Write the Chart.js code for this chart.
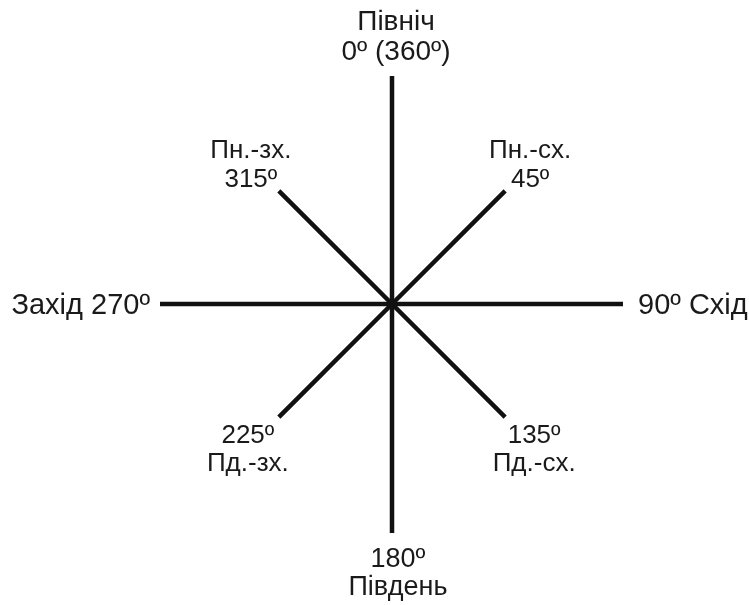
<!DOCTYPE html>
<html>
<head>
<meta charset="utf-8">
<script src="https://cdn.jsdelivr.net/npm/chart.js@4.4.0/dist/chart.umd.min.js"></script>
<style>
  html, body { margin: 0; padding: 0; background: #fff; }
  #compass { display: block; }
</style>
</head>
<body>
<canvas id="compass" width="749" height="605"></canvas>
<script>
// Дані рози вітрів
const directions = ['Північ', 'Пн.-сх.', 'Схід', 'Пд.-сх.', 'Південь', 'Пд.-зх.', 'Захід', 'Пн.-зх.'];
const degrees = [0, 45, 90, 135, 180, 225, 270, 315];
const degreeLabels = ['0º (360º)', '45º', '90º', '135º', '180º', '225º', '270º', '315º'];
const rayLengths = [228, 160, 231, 160, 229, 160, 232, 160];

// кінець променя для кожного напрямку
function rayEnd(i) {
    const a = degrees[i] * Math.PI / 180;
    return { x: rayLengths[i] * Math.sin(a), y: rayLengths[i] * Math.cos(a) };
}

const datasets = directions.map((name, i) => ({
    label: name,
    data: [{ x: 0, y: 0 }, rayEnd(i)],
    showLine: true,
    borderColor: '#111',
    borderWidth: 4.5,
    borderCapStyle: 'butt',
    pointRadius: 0,
    pointHoverRadius: 0
}));

// розміщення підписів відносно кінця променя (dx, dy, вирівнювання, розмір, порядок рядків)
const labelLayout = [
    { dx: 4,   dy: [-46, -16], align: 'center', size: 28, lines: i => [directions[i], degreeLabels[i]] },
    { dx: 25,  dy: [-33, -4],  align: 'center', size: 26, lines: i => [directions[i], degreeLabels[i]] },
    { dx: 15,  dy: [10],       align: 'left',   size: 29, lines: i => [degreeLabels[i] + ' ' + directions[i]] },
    { dx: 29,  dy: [26, 54],   align: 'center', size: 26, lines: i => [degreeLabels[i], directions[i]] },
    { dx: 6,   dy: [34, 62],   align: 'center', size: 27, lines: i => [degreeLabels[i], directions[i]] },
    { dx: -31, dy: [26, 54],   align: 'center', size: 26, lines: i => [degreeLabels[i], directions[i]] },
    { dx: -10, dy: [10],       align: 'right',  size: 29, lines: i => [directions[i] + ' ' + degreeLabels[i]] },
    { dx: -28, dy: [-33, -4],  align: 'center', size: 26, lines: i => [directions[i], degreeLabels[i]] }
];

const compassLabels = {
    id: 'compassLabels',
    afterDatasetsDraw(chart) {
        const ctx = chart.ctx;
        const xs = chart.scales.x, ys = chart.scales.y;
        ctx.save();
        ctx.fillStyle = '#1a1a1a';
        ctx.textBaseline = 'alphabetic';
        directions.forEach((name, i) => {
            const end = rayEnd(i);
            const px = xs.getPixelForValue(end.x);
            const py = ys.getPixelForValue(end.y);
            const lay = labelLayout[i];
            ctx.font = lay.size + 'px "Liberation Sans", Arial, sans-serif';
            ctx.textAlign = lay.align;
            lay.lines(i).forEach((txt, k) => {
                ctx.fillText(txt, px + lay.dx, py + lay.dy[k]);
            });
        });
        ctx.restore();
    }
};

new Chart(document.getElementById('compass').getContext('2d'), {
    type: 'scatter',
    data: { datasets: datasets },
    options: {
        responsive: false,
        animation: false,
        devicePixelRatio: 1,
        layout: { padding: 0 },
        plugins: { legend: { display: false }, tooltip: { enabled: false } },
        scales: {
            x: { type: 'linear', min: -392, max: 357, display: false },
            y: { type: 'linear', min: -301, max: 304, display: false }
        }
    },
    plugins: [compassLabels]
});
</script>
</body>
</html>
